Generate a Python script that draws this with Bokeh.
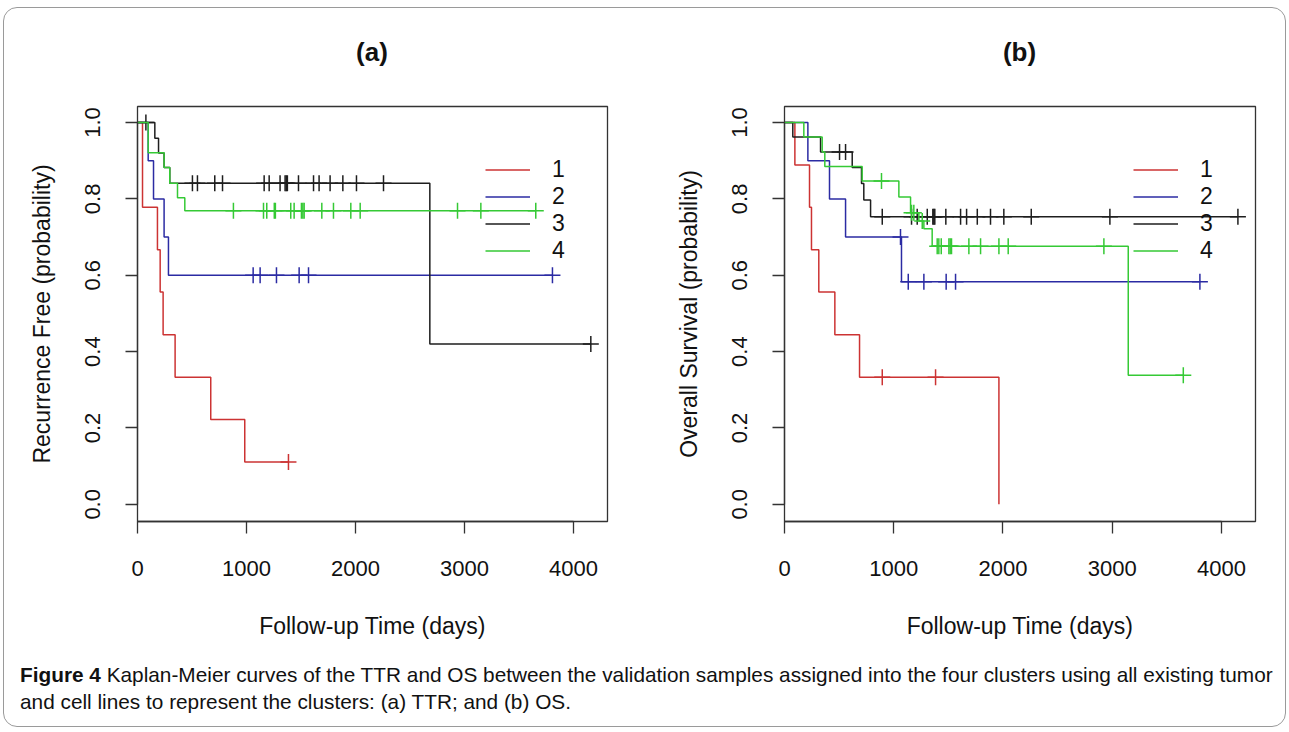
import numpy as np
from bokeh.plotting import figure
from bokeh.models import Range1d, FixedTicker, Legend, LegendItem, Div
from bokeh.layouts import row, column
from bokeh.embed import file_html
from bokeh.resources import INLINE

groups = ["1", "2", "3", "4"]
colors = ["#cc3333", "#2b2ba3", "#1e1e1e", "#35c935"]
panel_titles = ["(a)", "(b)"]
x_ticks = [0, 1000, 2000, 3000, 4000]
y_ticks = [0.0, 0.2, 0.4, 0.6, 0.8, 1.0]
y_tick_labels = ["0.0", "0.2", "0.4", "0.6", "0.8", "1.0"]

# ---- Panel (a): time to recurrence ----
ttr_time_1 = [0, 46, 183, 208, 235, 345, 672, 984, 1385]
ttr_surv_1 = [1.0, 0.778, 0.667, 0.556, 0.444, 0.333, 0.222, 0.111, 0.111]
ttr_cens_1 = [1385]

ttr_time_2 = [0, 98, 147, 244, 284, 3807]
ttr_surv_2 = [1.0, 0.9, 0.8, 0.7, 0.6, 0.6]
ttr_cens_2 = [1061, 1125, 1275, 1483, 1569, 3807]

ttr_time_3 = [0, 159, 193, 244, 296, 2682, 4159]
ttr_surv_3 = [1.0, 0.959, 0.920, 0.882, 0.841, 0.420, 0.420]
ttr_cens_3 = [77, 504, 550, 709, 780, 1162, 1208, 1308, 1354, 1365, 1375, 1477,
              1615, 1666, 1767, 1884, 2009, 2257, 4159]

ttr_time_4 = [0, 98, 244, 296, 367, 434, 3654]
ttr_surv_4 = [1.0, 0.921, 0.882, 0.841, 0.803, 0.769, 0.769]
ttr_cens_4 = [880, 1156, 1186, 1255, 1265, 1406, 1437, 1504, 1517, 1529, 1691,
              1798, 1957, 2043, 2936, 3150, 3654]

# ---- Panel (b): overall survival ----
os_time_1 = [0, 95, 229, 247, 314, 461, 687, 1963]
os_surv_1 = [1.0, 0.889, 0.778, 0.667, 0.556, 0.444, 0.333, 0.0]
os_cens_1 = [895, 1383]

os_time_2 = [0, 214, 412, 559, 1071, 3803]
os_surv_2 = [1.0, 0.9, 0.8, 0.7, 0.583, 0.583]
os_cens_2 = [1062, 1133, 1276, 1480, 1566, 3803]

os_time_3 = [0, 76, 330, 620, 705, 726, 788, 4151]
os_surv_3 = [1.0, 0.962, 0.923, 0.882, 0.840, 0.797, 0.753, 0.753]
os_cens_3 = [504, 559, 895, 1163, 1215, 1307, 1358, 1367, 1376, 1477, 1612, 1667,
             1765, 1886, 2008, 2259, 2979, 4151]

os_time_4 = [0, 177, 345, 369, 711, 1047, 1154, 1230, 1276, 1352, 3147, 3651]
os_surv_4 = [1.0, 0.962, 0.923, 0.885, 0.847, 0.805, 0.764, 0.742, 0.722, 0.676, 0.338, 0.338]
os_cens_4 = [888, 1163, 1184, 1261, 1398, 1413, 1435, 1505, 1517, 1529, 1688, 1795,
             1963, 2048, 2924, 3651]

ttr_data = [(ttr_time_1, ttr_surv_1, ttr_cens_1), (ttr_time_2, ttr_surv_2, ttr_cens_2),
            (ttr_time_3, ttr_surv_3, ttr_cens_3), (ttr_time_4, ttr_surv_4, ttr_cens_4)]
os_data = [(os_time_1, os_surv_1, os_cens_1), (os_time_2, os_surv_2, os_cens_2),
           (os_time_3, os_surv_3, os_cens_3), (os_time_4, os_surv_4, os_cens_4)]

FONT = "Liberation Sans"
AX = "#333333"
X_END = 4312
Y_LO, Y_HI = -0.045, 1.042
TITLE_H = 70
FIG_H = 567


def surv_at(times, surv, t):
    idx = np.searchsorted(np.asarray(times), t, side="right") - 1
    return [surv[i] for i in np.atleast_1d(idx)]


def km_panel(ylabel, data, width, bl, br, legend_x):
    p = figure(width=width, height=FIG_H, output_backend="svg", toolbar_location=None,
               x_range=Range1d(0, X_END), y_range=Range1d(Y_LO, Y_HI),
               min_border_left=bl, min_border_right=br, min_border_top=28,
               min_border_bottom=124)
    p.grid.visible = False
    p.outline_line_color = AX
    p.outline_line_width = 1.3
    p.background_fill_color = "white"
    p.border_fill_color = "white"

    items = []
    for g, c, (t, s, cens) in zip(groups, colors, data):
        r = p.step(x=t, y=s, mode="after", line_color=c, line_width=1.5)
        p.scatter(x=cens, y=surv_at(t, s, cens), marker="cross", size=16,
                  line_color=c, line_width=1.5)
        items.append(LegendItem(label=g, renderers=[r]))

    for ax in (p.xaxis[0], p.yaxis[0]):
        ax.axis_line_color = AX
        ax.axis_line_width = 1.3
        ax.major_tick_line_color = AX
        ax.major_tick_line_width = 1.3
        ax.major_tick_in = 0
        ax.major_tick_out = 12
        ax.minor_tick_line_color = None
        ax.major_label_text_font = FONT
        ax.major_label_text_font_size = "22px"
        ax.major_label_text_color = "#111111"
        ax.axis_label_text_font = FONT
        ax.axis_label_text_font_size = "23px"
        ax.axis_label_text_font_style = "normal"
        ax.axis_label_text_color = "#111111"

    p.xaxis.ticker = FixedTicker(ticks=x_ticks)
    p.xaxis.bounds = (0, 4000)
    p.xaxis.axis_label = "Follow-up Time (days)"
    p.xaxis.major_label_standoff = 27
    p.xaxis.axis_label_standoff = 34

    p.yaxis.ticker = FixedTicker(ticks=y_ticks)
    p.yaxis.major_label_overrides = {t: l for t, l in zip(y_ticks, y_tick_labels)}
    p.yaxis.bounds = (0, 1)
    p.yaxis.major_label_orientation = "vertical"
    p.yaxis.axis_label = ylabel
    p.yaxis.major_label_standoff = 25
    p.yaxis.axis_label_standoff = 28

    leg = Legend(items=items, location=(legend_x, 257), orientation="vertical",
                 background_fill_alpha=0, border_line_alpha=0,
                 label_text_font=FONT, label_text_font_size="23px",
                 label_text_color="#111111", glyph_width=45, glyph_height=27,
                 label_height=27, spacing=0, padding=0, margin=0, label_standoff=22)
    p.add_layout(leg, "center")
    return p


def title_div(text, width, frame_left, frame_w):
    html = ('<div style="margin-left:%dpx;width:%dpx;text-align:center;'
            'font-family:\'Liberation Sans\';font-weight:bold;font-size:26px;'
            'line-height:30px;padding-top:29px;color:#111">%s</div>'
            % (frame_left, frame_w, text))
    return Div(text=html, width=width, height=TITLE_H, margin=0)


fa = km_panel("Recurrence Free (probability)", ttr_data, 644, 133, 41, 348)
fb = km_panel("Overall Survival (probability)", os_data, 637, 136, 30, 349)
ta = title_div(panel_titles[0], 644, 133, 470)
tb = title_div(panel_titles[1], 637, 136, 471)

caption_html = (
    '<div style="font-family:\'Liberation Sans\';font-size:20.8px;line-height:27px;'
    'padding:16px 0 0 16px;white-space:nowrap;color:#111">'
    '<b>Figure 4</b> Kaplan-Meier curves of the TTR and OS between the validation samples '
    'assigned into the four clusters using all existing tumor<br>'
    'and cell lines to represent the clusters: (a) TTR; and (b) OS.</div>'
)
cap = Div(text=caption_html, width=1281, height=81, margin=0)

layout = column(row(ta, tb), row(fa, fb), cap,
                styles={"border": "1px solid #9a9a9a", "border-radius": "14px",
                        "margin-left": "3px", "margin-top": "7px"})

open("out.html", "w").write(file_html(layout, INLINE))
